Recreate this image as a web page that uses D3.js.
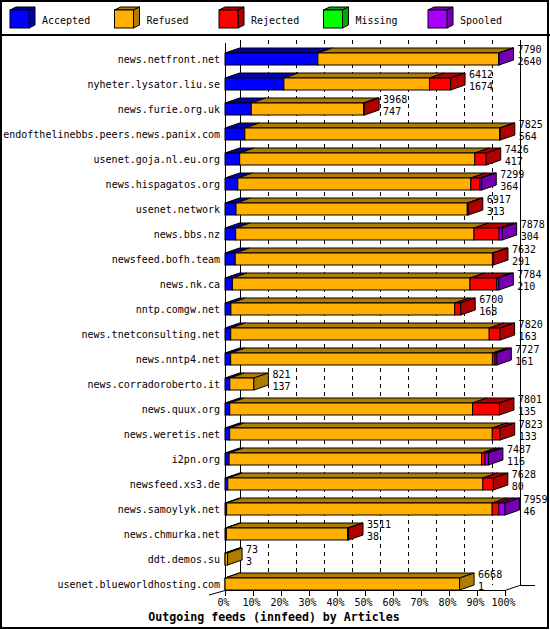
<!DOCTYPE html>
<html><head><meta charset="utf-8">
<script src="https://cdn.jsdelivr.net/npm/d3@7"></script>
<style>body{margin:0;background:#fff}svg{display:block}text{font-family:"DejaVu Sans Mono",monospace;font-size:10px;fill:#000}</style>
</head><body>
<svg id="c" width="550" height="630"></svg>
<script>
const categories = ["news.netfront.net","nyheter.lysator.liu.se","news.furie.org.uk","endofthelinebbs.peers.news.panix.com","usenet.goja.nl.eu.org","news.hispagatos.org","usenet.network","news.bbs.nz","newsfeed.bofh.team","news.nk.ca","nntp.comgw.net","news.tnetconsulting.net","news.nntp4.net","news.corradoroberto.it","news.quux.org","news.weretis.net","i2pn.org","newsfeed.xs3.de","news.samoylyk.net","news.chmurka.net","ddt.demos.su","usenet.blueworldhosting.com"];
const offered  = [7790,6412,3968,7825,7426,7299,6917,7878,7632,7784,6700,7820,7727,821,7801,7823,7487,7628,7959,3511,73,6668];
const accepted = [2640,1674,747,564,417,364,313,304,291,210,168,163,161,137,135,133,116,80,46,38,3,1];
const refused  = [5135,4141,3191,7241,6684,6625,6574,6774,7311,6754,6362,7347,7441,684,6901,7465,7176,7248,7548,3448,70,6667];
const rejected = [0,597,30,20,325,260,30,715,30,760,170,310,75,0,765,225,100,300,190,25,0,0];
const missing  = [0,0,0,0,0,0,0,0,0,0,0,0,0,0,0,0,0,0,0,0,0,0];
const spooled  = [15,0,0,0,0,50,0,85,0,60,0,0,50,0,0,0,95,0,175,0,0,0];
const seriesNames = ["Accepted","Refused","Rejected","Missing","Spooled"];
const percentTicks = [0,10,20,30,40,50,60,70,80,90,100];
const title = "Outgoing feeds (innfeed) by Articles";

const frontColors = ["#0000ff","#ffb000","#ff0000","#00ff00","#a800ff"];
const darkColors  = ["#0000a8","#b07c00","#b00000","#00a800","#7400b0"];

const svg = d3.select("#c");
const series = [accepted, refused, rejected, missing, spooled];
const maxTotal = d3.max(offered);
const x = d3.scaleLinear().domain([0, maxTotal]).range([225, 505]);
const xp = d3.scaleLinear().domain([0, 100]).range([225, 505]);
const y = d3.scaleBand().domain(categories).range([46.5, 596.5]);
const DX = 14.5, DY = 5, BH = 12;

// frame
svg.append("rect").attr("x",1).attr("y",1).attr("width",547).attr("height",627)
  .attr("fill","none").attr("stroke","#000").attr("stroke-width",2);
svg.append("line").attr("x1",0).attr("x2",550).attr("y1",35).attr("y2",35).attr("stroke","#000").attr("stroke-width",2);

// legend
const lg = svg.append("g");
seriesNames.forEach((n,i)=>{
  const lx = 10 + i*104.5, ly = 10, w = 19, h = 18, dx = 6, dy = 3;
  lg.append("path").attr("d",`M${lx},${ly}L${lx+dx},${ly-dy}L${lx+w+dx},${ly-dy}L${lx+w},${ly}Z`).attr("fill",darkColors[i]).attr("stroke","#000");
  lg.append("path").attr("d",`M${lx+w},${ly}L${lx+w+dx},${ly-dy}L${lx+w+dx},${ly+h-dy}L${lx+w},${ly+h}Z`).attr("fill",darkColors[i]).attr("stroke","#000");
  lg.append("rect").attr("x",lx).attr("y",ly).attr("width",w).attr("height",h).attr("fill",frontColors[i]).attr("stroke","#000");
  lg.append("text").attr("x",lx+32).attr("y",24).text(n);
});

// back wall grid lines
const g = svg.append("g");
percentTicks.forEach(p=>{
  const gx = Math.round(xp(p)+DX)+0.5;
  const ln = g.append("line").attr("x1",gx).attr("x2",gx).attr("y1",40).attr("y2",585).attr("stroke","#000");
  if (p!==0 && p!==100) ln.attr("stroke-dasharray","4,4");
});
// left axis & floor
g.append("line").attr("x1",225.5).attr("x2",225.5).attr("y1",43).attr("y2",590).attr("stroke","#000");
g.append("path").attr("d",`M209,595L${xp(0)},590.5L${xp(100)},590.5L${xp(100)+DX},585.5L535,585.5`).attr("fill","none").attr("stroke","#000");
percentTicks.forEach(p=>{
  const tx = Math.round(xp(p))+0.5;
  g.append("line").attr("x1",tx).attr("x2",tx).attr("y1",590).attr("y2",596).attr("stroke","#000");
  g.append("text").attr("x",tx-2).attr("y",606).attr("text-anchor","middle").text(p+"%");
});
svg.append("text").attr("x",274).attr("y",621).attr("text-anchor","middle")
  .style("font-weight","bold").style("font-size","11.6px").text(title);

// bars
const bars = svg.append("g");
categories.forEach((c,i)=>{
  const cy = y(c) + y.bandwidth()/2;
  const top = cy - 6, bot = top + BH;
  let cum = 0, lastIdx = 0;
  series.forEach((s,k)=>{
    const v = s[i];
    if (v<=0) return;
    const x0 = x(cum), x1 = x(cum+v);
    cum += v; lastIdx = k;
    bars.append("path").attr("d",`M${x0},${top}L${x0+DX},${top-DY}L${x1+DX},${top-DY}L${x1},${top}Z`)
      .attr("fill",darkColors[k]).attr("stroke","#000");
    bars.append("rect").attr("x",x0).attr("y",top).attr("width",x1-x0).attr("height",BH)
      .attr("fill",frontColors[k]).attr("stroke","#000");
  });
  const xe = x(cum);
  bars.append("path").attr("d",`M${xe},${top}L${xe+DX},${top-DY}L${xe+DX},${bot-DY}L${xe},${bot}Z`)
    .attr("fill",darkColors[lastIdx]).attr("stroke","#000");
  bars.append("text").attr("x",220).attr("y",cy+4).attr("text-anchor","end").text(c);
  bars.append("text").attr("x",xe+DX+4).attr("y",cy-6).text(offered[i]);
  bars.append("text").attr("x",xe+DX+4).attr("y",cy+6).text(accepted[i]);
});
</script>
</body></html>
